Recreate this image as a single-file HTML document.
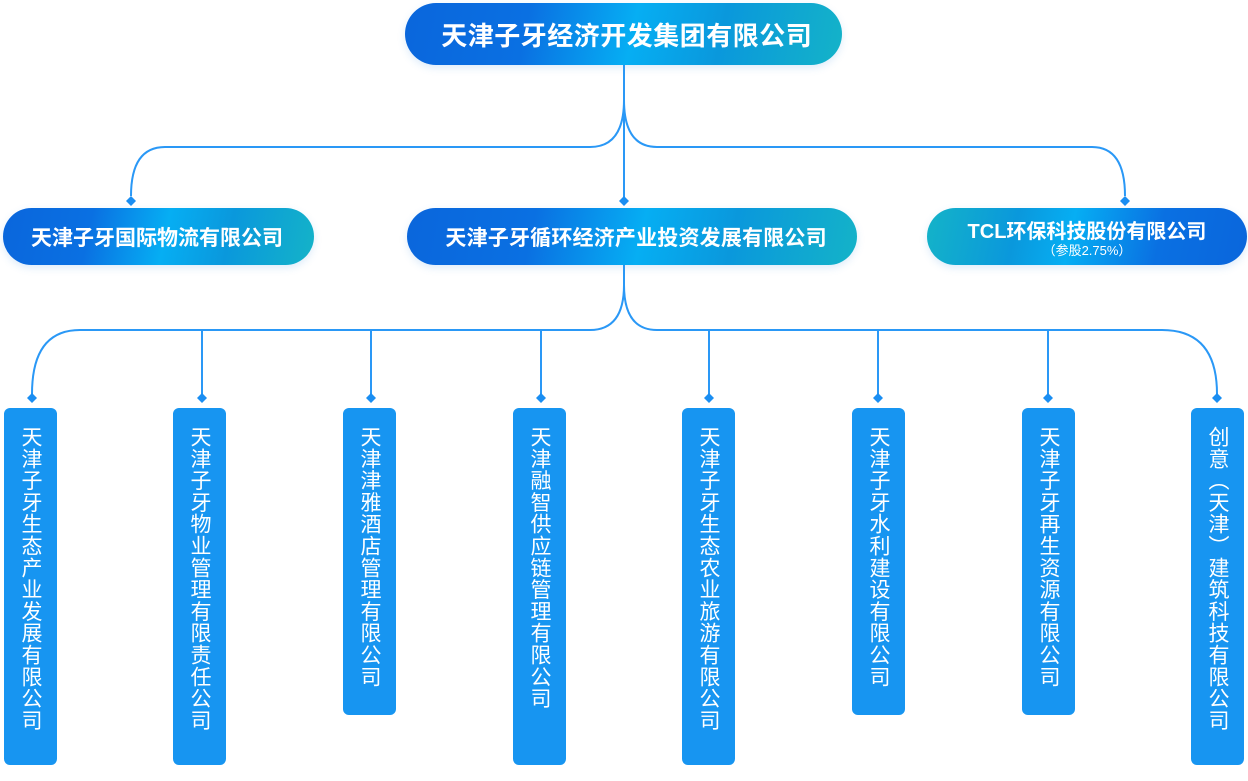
<!DOCTYPE html>
<html><head><meta charset="utf-8"><style>
html,body{margin:0;padding:0;background:#fff;}
body{width:1248px;height:781px;position:relative;overflow:hidden;font-family:"Liberation Sans","Noto Sans CJK SC",sans-serif;}
.pill{position:absolute;border-radius:40px;color:#fff;font-weight:bold;display:flex;align-items:center;justify-content:center;white-space:nowrap;
background:linear-gradient(102deg,#0a66dc 0%,#0a70e2 28%,#06aef3 52%,#0a98dc 72%,#14b3c8 100%);
box-shadow:0 3px 8px rgba(70,150,230,0.18);}
.rev{background:linear-gradient(102deg,#14b3c8 0%,#0a98dc 28%,#06aef3 45%,#0a70e2 72%,#0a66dc 100%);}
.row{display:flex;}
.row i{font-style:normal;display:inline-block;text-align:center;overflow:visible;}
.t1 i{width:26.5px;font-size:26px;}
.t2 i{width:21px;font-size:21px;}
.t3 i{width:21.2px;font-size:21px;}
.box{position:absolute;top:408px;width:53px;background:#1795f1;border-radius:6px;color:#fff;}
.box span{position:absolute;left:50%;top:18px;transform:translateX(-50%);writing-mode:vertical-rl;font-size:21px;line-height:21px;letter-spacing:0.8px;font-family:"Liberation Sans","Noto Sans CJK SC",sans-serif;}
svg{position:absolute;left:0;top:0;}
</style></head><body>
<svg width="1248" height="781" viewBox="0 0 1248 781">
<g fill="none" stroke="#2a98f6" stroke-width="2">
<path d="M624,65 L624,200"/>
<path d="M624,100 Q624,147 590,147 L165,147 Q131,147 131,196"/>
<path d="M624,100 Q624,147 657,147 L1092,147 Q1125,147 1125,196"/>
<path d="M624,265 L624,285 Q624,330 590,330 L80,330 Q32,330 32,394"/>
<path d="M624,285 Q624,330 657,330 L1162,330 Q1217,330 1217,394"/>
<path d="M202,330 V396 M371,330 V396 M541,330 V396 M709,330 V396 M878,330 V396 M1048,330 V396"/>
</g>
<g fill="#1a8ef2">
<path d="M131,196 l5,5 l-5,5 l-5,-5z"/>
<path d="M624,196 l5,5 l-5,5 l-5,-5z"/>
<path d="M1125,196 l5,5 l-5,5 l-5,-5z"/>
<path d="M32,393 l5,5 l-5,5 l-5,-5z"/>
<path d="M202,393 l5,5 l-5,5 l-5,-5z"/>
<path d="M371,393 l5,5 l-5,5 l-5,-5z"/>
<path d="M541,393 l5,5 l-5,5 l-5,-5z"/>
<path d="M709,393 l5,5 l-5,5 l-5,-5z"/>
<path d="M878,393 l5,5 l-5,5 l-5,-5z"/>
<path d="M1048,393 l5,5 l-5,5 l-5,-5z"/>
<path d="M1217,393 l5,5 l-5,5 l-5,-5z"/>
</g>
</svg>

<div class="pill" style="left:405px;top:3px;width:437px;height:62px;">
<div class="row t1" style="margin-left:6px;"><i>天</i><i>津</i><i>子</i><i>牙</i><i>经</i><i>济</i><i>开</i><i>发</i><i>集</i><i>团</i><i>有</i><i>限</i><i>公</i><i>司</i></div>
</div>

<div class="pill" style="left:3px;top:208px;width:311px;height:57px;">
<div class="row t2" style="margin-right:3px;"><i>天</i><i>津</i><i>子</i><i>牙</i><i>国</i><i>际</i><i>物</i><i>流</i><i>有</i><i>限</i><i>公</i><i>司</i></div>
</div>

<div class="pill" style="left:407px;top:208px;width:450px;height:57px;">
<div class="row t3" style="margin-left:8px;"><i>天</i><i>津</i><i>子</i><i>牙</i><i>循</i><i>环</i><i>经</i><i>济</i><i>产</i><i>业</i><i>投</i><i>资</i><i>发</i><i>展</i><i>有</i><i>限</i><i>公</i><i>司</i></div>
</div>

<div class="pill rev" style="left:927px;top:208px;width:320px;height:57px;flex-direction:column;">
<div style="font-size:20px;line-height:22px;margin-top:6px;">TCL环保科技股份有限公司</div>
<div style="font-size:13px;line-height:15px;font-weight:normal;">（参股2.75%）</div>
</div>

<div class="box" style="left:4px;height:357px;"><span>天津子牙生态产业发展有限公司</span></div>
<div class="box" style="left:173px;height:357px;"><span>天津子牙物业管理有限责任公司</span></div>
<div class="box" style="left:343px;height:307px;"><span>天津津雅酒店管理有限公司</span></div>
<div class="box" style="left:513px;height:357px;"><span>天津融智供应链管理有限公司</span></div>
<div class="box" style="left:682px;height:357px;"><span>天津子牙生态农业旅游有限公司</span></div>
<div class="box" style="left:852px;height:307px;"><span>天津子牙水利建设有限公司</span></div>
<div class="box" style="left:1022px;height:307px;"><span>天津子牙再生资源有限公司</span></div>
<div class="box" style="left:1191px;height:357px;"><span>创意（天津）建筑科技有限公司</span></div>
</body></html>
